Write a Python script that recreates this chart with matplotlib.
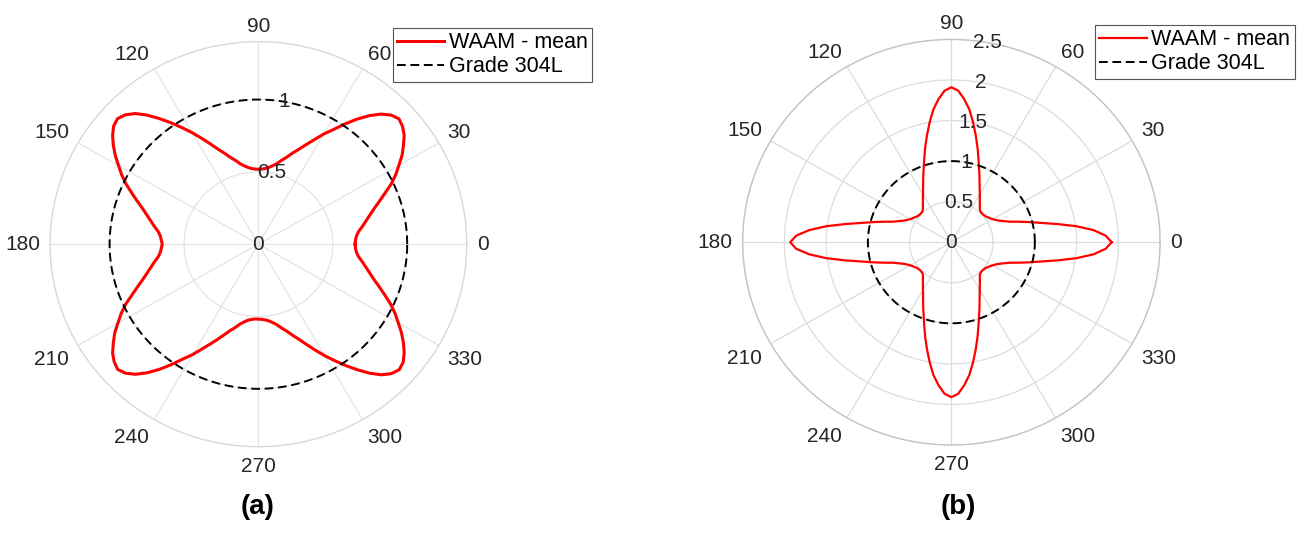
import numpy as np
import matplotlib.pyplot as plt

plt.rcParams['font.family'] = ['Liberation Sans', 'DejaVu Sans']

# polar sample angles (deg) for the WAAM curves
THETA_DEG = np.arange(0, 360, 2.5)

# (a) WAAM - mean, one quadrant per three lines
WAAM_A = [
    0.650, 0.653, 0.662, 0.680, 0.710, 0.740, 0.775, 0.815, 0.865, 0.920, 0.985, 1.040,
    1.090, 1.145, 1.190, 1.235, 1.265, 1.282, 1.262, 1.220, 1.160, 1.090, 1.015, 0.940,
    0.880, 0.815, 0.760, 0.710, 0.670, 0.630, 0.600, 0.570, 0.550, 0.535, 0.525, 0.520,
    0.518, 0.520, 0.525, 0.535, 0.550, 0.570, 0.600, 0.630, 0.670, 0.712, 0.765, 0.825,
    0.890, 0.955, 1.025, 1.095, 1.165, 1.225, 1.265, 1.284, 1.270, 1.235, 1.190, 1.140,
    1.085, 1.035, 0.980, 0.920, 0.865, 0.815, 0.775, 0.740, 0.710, 0.680, 0.662, 0.653,
    0.646, 0.653, 0.662, 0.680, 0.710, 0.740, 0.775, 0.815, 0.865, 0.920, 0.985, 1.040,
    1.090, 1.145, 1.190, 1.235, 1.265, 1.282, 1.262, 1.220, 1.160, 1.090, 1.015, 0.940,
    0.880, 0.815, 0.760, 0.710, 0.665, 0.625, 0.595, 0.565, 0.545, 0.530, 0.522, 0.518,
    0.518, 0.520, 0.525, 0.535, 0.550, 0.570, 0.600, 0.630, 0.670, 0.712, 0.765, 0.825,
    0.890, 0.955, 1.025, 1.095, 1.165, 1.225, 1.265, 1.284, 1.270, 1.235, 1.190, 1.140,
    1.085, 1.035, 0.980, 0.920, 0.865, 0.815, 0.775, 0.740, 0.710, 0.680, 0.662, 0.653,
]

# (b) WAAM - mean
WAAM_B = [
    1.92, 1.85, 1.71, 1.51, 1.29, 1.10, 0.96, 0.84, 0.74, 0.68, 0.63, 0.595,
    0.57, 0.55, 0.535, 0.52, 0.515, 0.51, 0.51, 0.515, 0.53, 0.56, 0.595, 0.635,
    0.68, 0.735, 0.80, 0.88, 0.97, 1.08, 1.21, 1.35, 1.50, 1.65, 1.77, 1.87,
    1.91, 1.87, 1.77, 1.65, 1.50, 1.35, 1.21, 1.08, 0.97, 0.88, 0.80, 0.735,
    0.68, 0.635, 0.595, 0.56, 0.53, 0.515, 0.51, 0.51, 0.515, 0.52, 0.535, 0.55,
    0.57, 0.595, 0.63, 0.68, 0.74, 0.84, 0.96, 1.10, 1.29, 1.51, 1.71, 1.86,
    1.93, 1.86, 1.71, 1.51, 1.29, 1.10, 0.96, 0.84, 0.74, 0.68, 0.63, 0.595,
    0.57, 0.55, 0.535, 0.52, 0.515, 0.51, 0.51, 0.515, 0.53, 0.56, 0.595, 0.635,
    0.68, 0.735, 0.80, 0.88, 0.97, 1.08, 1.21, 1.35, 1.50, 1.65, 1.77, 1.87,
    1.91, 1.87, 1.77, 1.65, 1.50, 1.35, 1.21, 1.08, 0.97, 0.88, 0.80, 0.735,
    0.68, 0.635, 0.595, 0.56, 0.53, 0.515, 0.51, 0.51, 0.515, 0.52, 0.535, 0.55,
    0.57, 0.595, 0.63, 0.68, 0.74, 0.84, 0.96, 1.10, 1.29, 1.51, 1.71, 1.85,
]

GRADE_304L = 1.0  # isotropic reference

RMAX_A = 1.4
RTICKS_A = [0, 0.5, 1]
RMAX_B = 2.5
RTICKS_B = [0, 0.5, 1, 1.5, 2, 2.5]
THETA_TICKS = list(range(0, 360, 30))

TXT = '#262626'


def closed(theta_deg, r):
    th = np.deg2rad(np.append(theta_deg, theta_deg[0]))
    return th, np.append(r, r[0])


def draw_polar(ax, r_waam, rmax, rticks, red_lw, grid_col, ring_col):
    ax.set_aspect('auto')
    ax.set_rlim(0, rmax)
    ax.set_rticks(rticks)
    ax.set_yticklabels([])
    ax.set_thetagrids(THETA_TICKS, labels=[''] * len(THETA_TICKS))
    ax.grid(True, color=grid_col, lw=0.9)
    ax.spines['polar'].set_edgecolor(ring_col)
    ax.spines['polar'].set_linewidth(1.0)

    th, r = closed(THETA_DEG, r_waam)
    ax.plot(th, r, color='#ff0000', lw=red_lw, label='WAAM - mean', zorder=3,
            solid_joinstyle='round')
    th_c = np.linspace(0, 2 * np.pi, 361)
    ax.plot(th_c, np.full_like(th_c, GRADE_304L), color='black', lw=1.4,
            linestyle=(0, (4.5, 2.4)), label='Grade 304L', zorder=3)

    # theta labels outside the ring
    for t in THETA_TICKS:
        c, s = np.cos(np.deg2rad(t)), np.sin(np.deg2rad(t))
        ha = 'left' if c > 0.1 else ('right' if c < -0.1 else 'center')
        va = 'baseline' if s > 0.1 else ('top' if s < -0.1 else 'center')
        ax.annotate(str(t), xy=(np.deg2rad(t), rmax), xytext=(10 * c, 10 * s),
                    textcoords='offset pixels', ha=ha, va=va, fontsize=15,
                    color=TXT, annotation_clip=False)
    # radial labels along 80 deg
    for rt in rticks:
        ax.text(np.deg2rad(80), rt, f'{rt:g}', ha='center', va='center',
                fontsize=15, color=TXT, zorder=4)


fig = plt.figure(figsize=(13.07, 5.37), dpi=100)
ax_a = fig.add_axes([0.0383, 0.1682, 0.3188, 0.7542], projection='polar')
ax_b = fig.add_axes([0.5682, 0.1713, 0.3194, 0.7553], projection='polar')

draw_polar(ax_a, WAAM_A, RMAX_A, RTICKS_A, 2.2, '#e4e4e4', '#d8d8d8')
draw_polar(ax_b, WAAM_B, RMAX_B, RTICKS_B, 1.6, '#dcdcdc', '#c4c4c4')

for ax, anchor in [(ax_a, (0.3005, 0.948)), (ax_b, (0.8378, 0.9534))]:
    leg = ax.legend(loc='upper left', bbox_to_anchor=anchor, bbox_transform=fig.transFigure,
                    fontsize=15.5, fancybox=False, edgecolor='#555555', framealpha=1,
                    borderaxespad=0, borderpad=0.2, handlelength=2.2, handletextpad=0.22,
                    labelspacing=0.14)
    leg.get_frame().set_linewidth(0.8)

fig.text(258 / 1307, 1 - 507 / 537, '(a)', ha='center', va='center', fontsize=20, fontweight='bold')
fig.text(958 / 1307, 1 - 507 / 537, '(b)', ha='center', va='center', fontsize=20, fontweight='bold')

fig.savefig('out.png', dpi=100)
